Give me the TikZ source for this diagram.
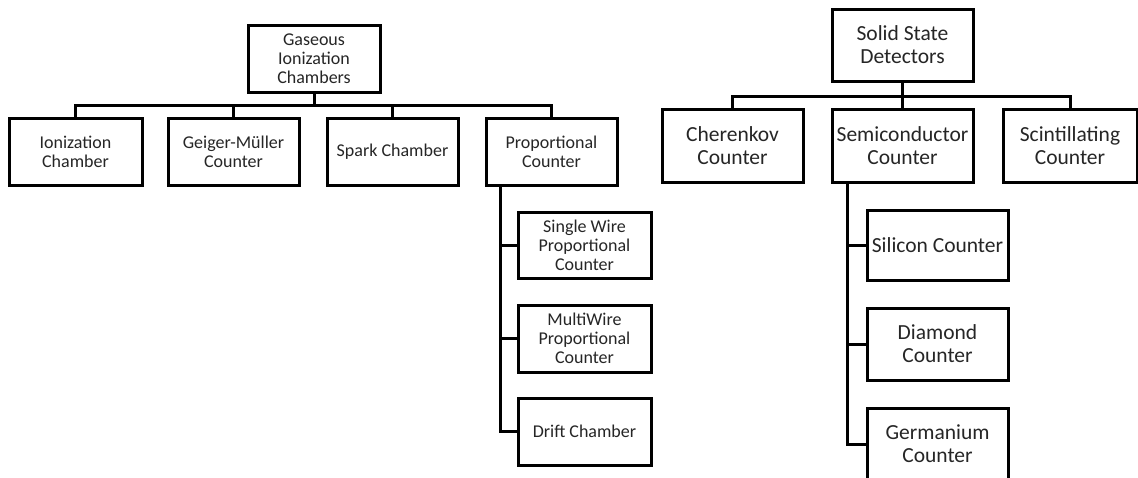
\documentclass[tikz,border=0pt]{standalone}
\usepackage{fontspec}
\setmainfont{Carlito}
\begin{document}
\begin{tikzpicture}[x=1pt,y=-1pt,
  line join=miter,
  box/.style={draw=black, line width=3pt, fill=white, rectangle, inner sep=0pt,
    align=center, text=black!85},
  leftbox/.style={box, minimum width=132pt, minimum height=67pt,
    font=\fontsize{18}{19}\selectfont},
  rightbox/.style={box, minimum width=141pt, minimum height=72pt,
    font=\fontsize{21.5}{23}\selectfont},
  wire/.style={draw=black, line width=3pt}]
\useasboundingbox (0,0) rectangle (1138,477);

% ---- gaseous ionization chambers ----
\node[leftbox] (gic) at (314,58.5) {Gaseous\\Ionization\\Chambers};
\node[leftbox, minimum width=133pt] (ic) at (75.5,151.5) {Ionization\\Chamber};
\node[leftbox, minimum width=131pt] (gm) at (233.5,151.5) {Geiger-Müller\\Counter};
\node[leftbox, minimum width=131pt] (sc) at (392.5,151.5) {Spark Chamber};
\node[leftbox, minimum width=131pt] (pc) at (551.5,151.5) {Proportional\\Counter};
\node[leftbox, minimum width=133pt, minimum height=66pt] (sw) at (584.5,245) {Single Wire\\Proportional\\Counter};
\node[leftbox, minimum width=133pt] (mw) at (584.5,338.5) {MultiWire\\Proportional\\Counter};
\node[leftbox, minimum width=133pt] (dc) at (584.5,431.5) {Drift Chamber};

\coordinate (busL) at (0,105);
\draw[wire] (gic.south) -- (gic.south |- busL);
\draw[wire] (ic.north) -- (ic.north |- busL) -| (pc.north);
\draw[wire] (gm.north) -- (gm.north |- busL);
\draw[wire] (sc.north) -- (sc.north |- busL);

\coordinate (trL) at ([xshift=-51.5pt]pc.south);
\draw[wire] (trL) |- (dc.west);
\draw[wire] (trL |- sw.west) -- (sw.west);
\draw[wire] (trL |- mw.west) -- (mw.west);

% ---- solid state detectors ----
\node[rightbox] (ssd) at (902.5,45) {Solid State\\Detectors};
\node[rightbox, minimum height=73pt] (ck) at (732.5,145.5) {Cherenkov\\Counter};
\node[rightbox, minimum height=73pt] (semi) at (902.5,145.5) {Semiconductor\\Counter};
\node[rightbox, minimum height=73pt, minimum width=134pt] (scint) at (1070,145.5) {Scintillating\\Counter};
\node[rightbox, minimum height=70pt] (si) at (937.5,245) {Silicon Counter};
\node[rightbox] (dm) at (937.5,344) {Diamond\\Counter};
\node[rightbox] (ge) at (937.5,444) {Germanium\\Counter};

\coordinate (busR) at (0,96);
\draw[wire] (ssd.south) -- (ssd.south |- busR);
\draw[wire] (ck.north) -- (ck.north |- busR) -| (scint.north);
\draw[wire] (semi.north) -- (semi.north |- busR);

\coordinate (trR) at ([xshift=-55.5pt]semi.south);
\draw[wire] (trR) |- (ge.west);
\draw[wire] (trR |- si.west) -- (si.west);
\draw[wire] (trR |- dm.west) -- (dm.west);
\end{tikzpicture}
\end{document}
